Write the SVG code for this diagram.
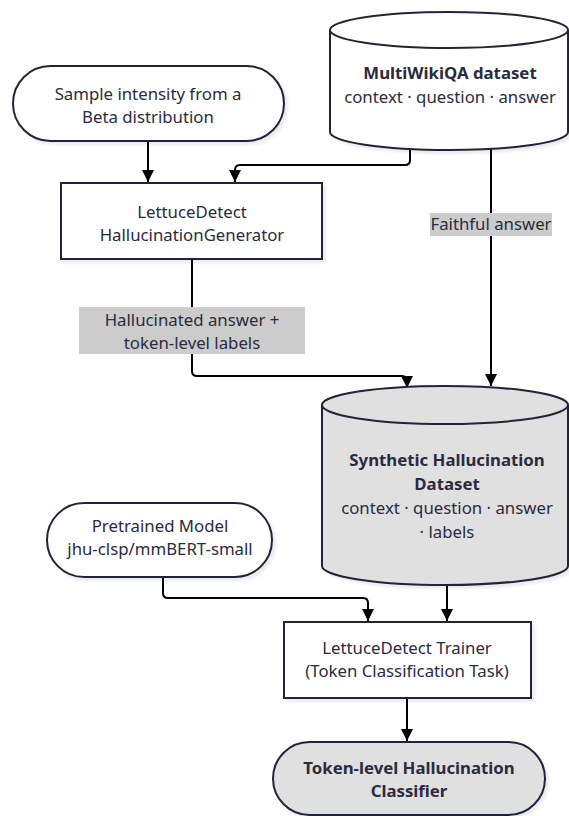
<svg xmlns="http://www.w3.org/2000/svg" width="569" height="816" viewBox="0 0 569 816">
<defs>
<style>
.node{stroke:#23233b;stroke-width:2;}
.w{fill:#ffffff;}
.g{fill:#e0e0e0;}
.t{font-family:"Noto Sans","Liberation Sans",sans-serif;font-size:16.8px;fill:#2b2b40;text-anchor:middle;}
.b{font-weight:bold;}
.edge{fill:none;stroke:#000;stroke-width:2;}
.lbl{fill:#cccccc;}
</style>
<filter id="sh" x="-10%" y="-10%" width="130%" height="130%">
<feDropShadow dx="3" dy="3" stdDeviation="1.5" flood-color="#000" flood-opacity="0.08"/>
</filter>
<marker id="ah" viewBox="0 0 12 12" refX="12" refY="6" markerWidth="12" markerHeight="12" markerUnits="userSpaceOnUse" orient="auto">
<path d="M0,0 L12,6 L0,12 z" fill="#000"/>
</marker>
</defs>

<g id="connectors">
<path class="edge" d="M148,141 V182" marker-end="url(#ah)"/>
<path class="edge" d="M410,144 V160 Q410,165 405,165 H240 Q235,165 235,170 V182" marker-end="url(#ah)"/>
<path class="edge" d="M491,146 V386" marker-end="url(#ah)"/>
<path class="edge" d="M192,259 V371 Q192,376 197,376 H402 Q407,376 407,381 V388" marker-end="url(#ah)"/>
<path class="edge" d="M447,584 V621" marker-end="url(#ah)"/>
<path class="edge" d="M163,577 V593 Q163,598 168,598 H363 Q368,598 368,603 V621" marker-end="url(#ah)"/>
<path class="edge" d="M407,698 V741" marker-end="url(#ah)"/>
</g>

<g id="sample">
<rect class="node w" x="13" y="66" width="271" height="75" rx="37.5" filter="url(#sh)"/>
<text class="t" x="148" y="100">Sample intensity from a</text>
<text class="t" x="148" y="123">Beta distribution</text>
</g>

<g id="multiwikiqa">
<path class="node w" d="M330,30 A119,18 0 0 1 568,30 V132 A119,18 0 0 1 330,132 Z" filter="url(#sh)"/>
<path class="node" fill="none" d="M330,30 A119,18 0 0 0 568,30"/>
<text class="t b" x="450" y="79">MultiWikiQA dataset</text>
<text class="t" x="450" y="103">context · question · answer</text>
</g>

<g id="generator">
<rect class="node w" x="61" y="183" width="261" height="76" filter="url(#sh)"/>
<text class="t" x="192" y="218">LettuceDetect</text>
<text class="t" x="192" y="241">HallucinationGenerator</text>
</g>

<g id="label-faithful">
<rect class="lbl" x="430" y="213" width="122" height="23"/>
<text class="t" x="491" y="230">Faithful answer</text>
</g>

<g id="label-hallucinated">
<rect class="lbl" x="79" y="307" width="226" height="47"/>
<text class="t" x="192" y="326">Hallucinated answer +</text>
<text class="t" x="192" y="349">token-level labels</text>
</g>

<g id="synthetic">
<path class="node g" d="M322,405 A123,19 0 0 1 568,405 V566 A123,19 0 0 1 322,566 Z" filter="url(#sh)"/>
<path class="node" fill="none" d="M322,405 A123,19 0 0 0 568,405"/>
<text class="t b" x="447" y="466">Synthetic Hallucination</text>
<text class="t b" x="447" y="490">Dataset</text>
<text class="t" x="447" y="514">context · question · answer</text>
<text class="t" x="447" y="538">· labels</text>
</g>

<g id="pretrained">
<rect class="node w" x="47" y="503" width="225" height="74" rx="37" filter="url(#sh)"/>
<text class="t" x="160" y="532">Pretrained Model</text>
<text class="t" x="160" y="555">jhu-clsp/mmBERT-small</text>
</g>

<g id="trainer">
<rect class="node w" x="284" y="622" width="247" height="76" filter="url(#sh)"/>
<text class="t" x="407" y="654">LettuceDetect Trainer</text>
<text class="t" x="407" y="677">(Token Classification Task)</text>
</g>

<g id="classifier">
<rect class="node g" x="273" y="742" width="272" height="73" rx="36.5" filter="url(#sh)"/>
<text class="t b" x="409" y="774">Token-level Hallucination</text>
<text class="t b" x="409" y="797">Classifier</text>
</g>
</svg>
